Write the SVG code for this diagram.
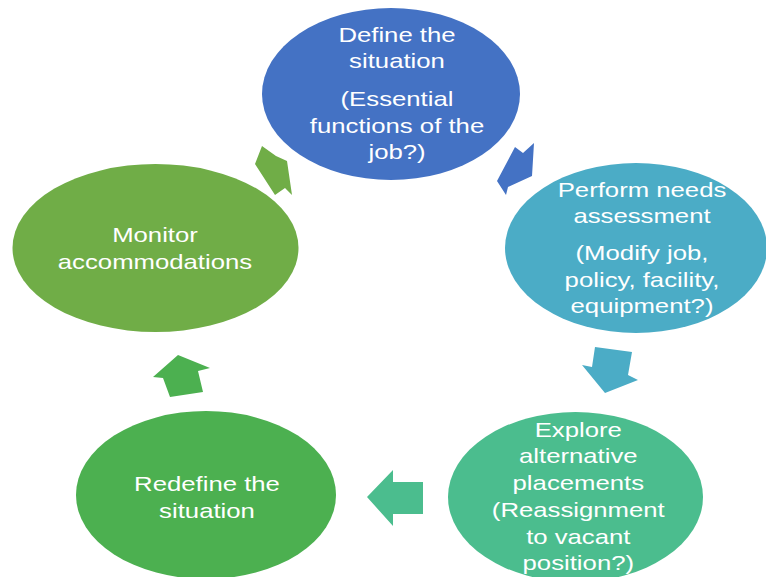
<svg xmlns="http://www.w3.org/2000/svg" width="766" height="577" viewBox="0 0 766 577">
<style>
  .t { font-family: "Liberation Sans", Arial, sans-serif; font-size: 21px; fill: #ffffff; text-anchor: middle; }
</style>
<rect width="766" height="577" fill="#ffffff"/>
<g id="connectors">
  <polygon fill="#70AD47" points="262,146 276,156 287,161 292,195 285,188 275,195 255,164"/>
  <polygon fill="#4472C4" points="515,147 523,153 534,143 532,176 508,187 506,195 497,181"/>
  <polygon fill="#4BACC6" points="595,347 632,352 628,375 638,380 605,393 582,365 592,367"/>
  <polygon fill="#4BBD8E" points="367,497 393,470 393,482 423,482 423,514 393,514 393,526"/>
  <polygon fill="#4CB050" points="178,355 210,368 198,371 203,392 170,397 163,378 153,377"/>
</g>
<g id="node-define">
  <ellipse cx="391" cy="94" rx="129" ry="86" fill="#4472C4"/>
  <g transform="translate(397,0) scale(1.225,1)">
    <text class="t" x="0" y="42">Define the</text>
    <text class="t" x="0" y="68.5">situation</text>
    <text class="t" x="0" y="106">(Essential</text>
    <text class="t" x="0" y="132.7">functions of the</text>
    <text class="t" x="0" y="159.3">job?)</text>
  </g>
</g>
<g id="node-perform">
  <ellipse cx="636" cy="248" rx="131" ry="85" fill="#4BACC6"/>
  <g transform="translate(642,0) scale(1.225,1)">
    <text class="t" x="0" y="196.7">Perform needs</text>
    <text class="t" x="0" y="223.3">assessment</text>
    <text class="t" x="0" y="260">(Modify job,</text>
    <text class="t" x="0" y="286.7">policy, facility,</text>
    <text class="t" x="0" y="313.3">equipment?)</text>
  </g>
</g>
<g id="node-explore">
  <ellipse cx="575.5" cy="497" rx="127.5" ry="85" fill="#4BBD8E"/>
  <g transform="translate(578.3,0) scale(1.225,1)">
    <text class="t" x="0" y="436.7">Explore</text>
    <text class="t" x="0" y="463.5">alternative</text>
    <text class="t" x="0" y="490.3">placements</text>
    <text class="t" x="0" y="517">(Reassignment</text>
    <text class="t" x="0" y="543.7">to vacant</text>
    <text class="t" x="0" y="570.3">position?)</text>
  </g>
</g>
<g id="node-redefine">
  <ellipse cx="206" cy="495" rx="130" ry="84" fill="#4CB050"/>
  <g transform="translate(207,0) scale(1.225,1)">
    <text class="t" x="0" y="491">Redefine the</text>
    <text class="t" x="0" y="518">situation</text>
  </g>
</g>
<g id="node-monitor">
  <ellipse cx="155.5" cy="248" rx="143" ry="84" fill="#70AD47"/>
  <g transform="translate(155,0) scale(1.225,1)">
    <text class="t" x="0" y="242">Monitor</text>
    <text class="t" x="0" y="269">accommodations</text>
  </g>
</g>
</svg>
